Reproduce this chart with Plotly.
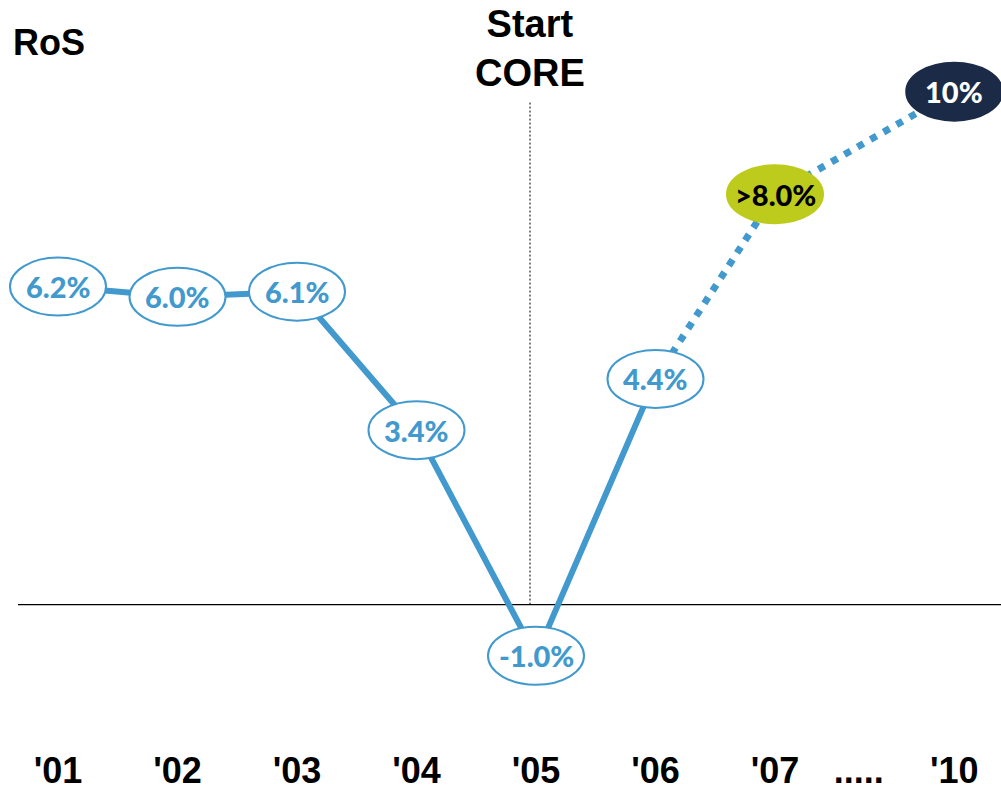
import plotly.graph_objects as go

# Return on sales by year; '07 and '10 are targets
years = ["'01", "'02", "'03", "'04", "'05", "'06", "'07", "'10"]
ros = [6.2, 6.0, 6.1, 3.4, -1.0, 4.4, 8.0, 10.0]
ros_labels = ["6.2%", "6.0%", "6.1%", "3.4%", "-1.0%", "4.4%", ">8.0%", "10%"]
gap_label = "....."
n_actual = 6  # '01 .. '06 are reported figures

# x positions: evenly spaced, with a wider gap before '10
xpos = list(range(len(years) - 1)) + [len(years) - 1 + 0.5]
gap_x = xpos[-2] + 0.7
core_x = xpos[4] - 0.05

BLUE = "#4199cd"
GREEN = "#bdcb1c"
NAVY = "#1b2b47"
W, H = 1001, 791
MB = 42
PX_X = 119.5
X0_PX = 58
PX_Y = 51.5
ZERO_PX = 607

fig = go.Figure()

# reported results: solid line
fig.add_trace(go.Scatter(
    x=xpos[:n_actual], y=ros[:n_actual], mode="lines",
    line=dict(color=BLUE, width=6), hoverinfo="skip", showlegend=False))
# targets: dotted line
fig.add_trace(go.Scatter(
    x=xpos[n_actual - 1:], y=ros[n_actual - 1:], mode="lines",
    line=dict(color=BLUE, width=7, dash="7px,8px"), hoverinfo="skip", showlegend=False))

shapes = []
annotations = []
for i, (x, v, lab) in enumerate(zip(xpos, ros, ros_labels)):
    if i < n_actual:
        fill, edge, tc = "white", BLUE, BLUE
    elif i == n_actual:
        fill, edge, tc = GREEN, GREEN, "black"
    else:
        fill, edge, tc = NAVY, NAVY, "white"
    shapes.append(dict(
        type="circle", layer="above", xref="x", yref="y",
        xsizemode="pixel", ysizemode="pixel", xanchor=x, yanchor=v,
        x0=-48, x1=48, y0=-29, y1=29,
        fillcolor=fill, line=dict(color=edge, width=2)))
    annotations.append(dict(
        x=x, y=v, xref="x", yref="y", text=lab, showarrow=False,
        font=dict(family="Lato, Open Sans, sans-serif", size=29, color=tc, weight=900)))

# zero line
shapes.append(dict(type="line", layer="below", xref="paper", yref="y",
                   x0=18 / W, x1=1, y0=0, y1=0, line=dict(color="black", width=1.3)))
# start of the CORE programme
shapes.append(dict(type="line", layer="below", xref="x", yref="y",
                   x0=core_x, x1=core_x, y0=0, y1=9.8,
                   line=dict(color="black", width=1, dash="2px,2px")))

annotations.append(dict(
    x=core_x, y=1.0, xref="x", yref="paper", yanchor="top", yshift=-1,
    text="<b>Start<br>CORE</b>", showarrow=False,
    font=dict(family="Liberation Sans, Arial, sans-serif", size=38, color="black")))
annotations.append(dict(
    x=11 / W, y=1.0, xref="paper", yref="paper", xanchor="left", yanchor="top", yshift=-20,
    text="<b>RoS</b>", showarrow=False,
    font=dict(family="Liberation Sans, Arial, sans-serif", size=36, color="black")))

plot_h = H - MB
fig.update_layout(
    width=W, height=H,
    margin=dict(l=0, r=0, t=0, b=MB),
    paper_bgcolor="white", plot_bgcolor="white",
    shapes=shapes, annotations=annotations,
    xaxis=dict(
        range=[-X0_PX / PX_X, (W - X0_PX) / PX_X],
        tickvals=xpos[:-1] + [gap_x, xpos[-1]],
        ticktext=years[:-1] + [gap_label, years[-1]],
        tickfont=dict(family="Liberation Sans, Arial, sans-serif", size=36, color="black", weight="bold"),
        showgrid=False, zeroline=False, showline=False, ticks="",
    ),
    yaxis=dict(
        range=[-(plot_h - ZERO_PX) / PX_Y, ZERO_PX / PX_Y],
        showticklabels=False, showgrid=False, zeroline=False, showline=False,
    ),
)

fig.write_html("out.html")
